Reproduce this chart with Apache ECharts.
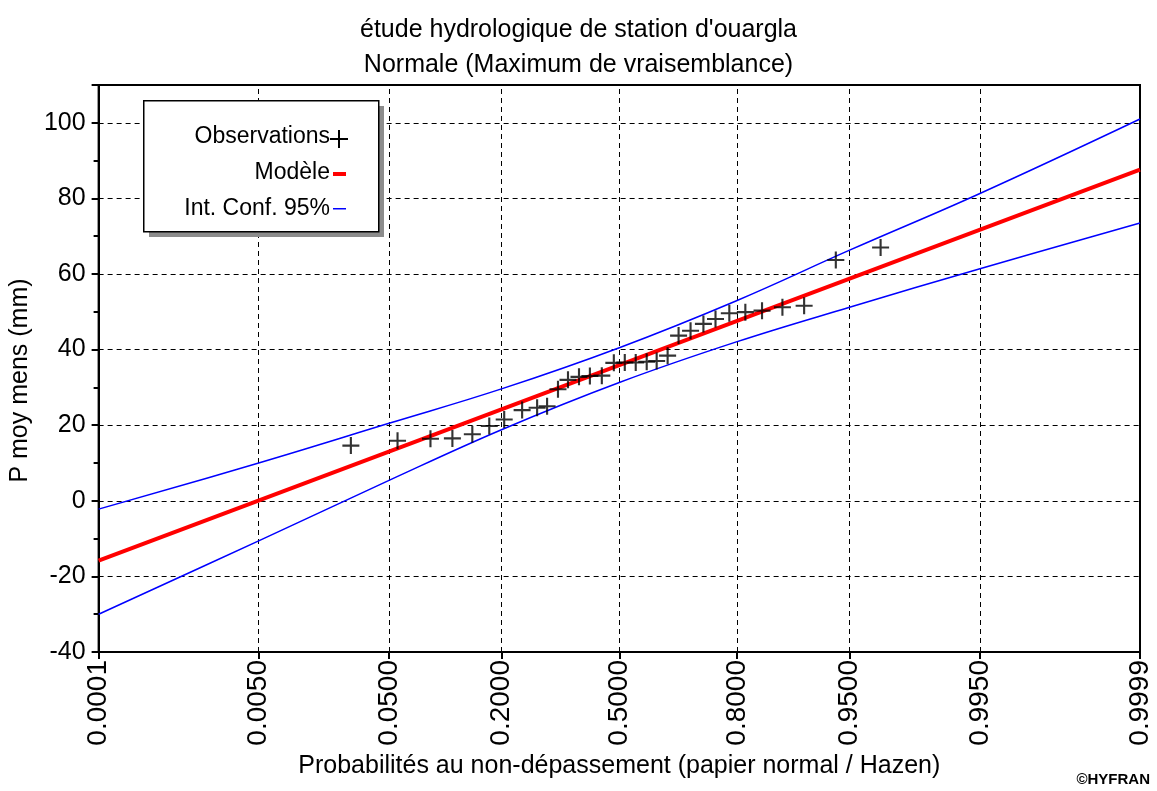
<!DOCTYPE html>
<html>
<head>
<meta charset="utf-8">
<script src="https://cdn.jsdelivr.net/npm/echarts@6/dist/echarts.min.js"></script>
<style>
html,body{margin:0;padding:0;background:#fff;}
#chart{width:1157px;height:791px;}
</style>
</head>
<body>
<div id="chart"></div>
<script>
// ---- data ----
const titleLines = ["étude hydrologique de station d'ouargla", "Normale (Maximum de vraisemblance)"];
const xAxisName = "Probabilités au non-dépassement (papier normal / Hazen)";
const yAxisName = "P moy mens (mm)";

// probability ticks (non-exceedance) and their labels
const tickProbs  = [0.0001, 0.005, 0.05, 0.2, 0.5, 0.8, 0.95, 0.995, 0.9999];
const tickLabels = ["0.0001","0.0050","0.0500","0.2000","0.5000","0.8000","0.9500","0.9950","0.9999"];

// observations: plotting probability and value (mm)
const obsProb  = [0.0276,0.0566,0.0887,0.1166,0.1469,0.1765,0.2055,0.2438,0.2786,0.3030,0.3307,0.3570,0.3867,0.4168,0.4503,0.4844,
                  0.5156,0.5467,0.5776,0.6052,0.6350,0.6640,0.6946,0.7260,0.7540,0.7840,0.8160,0.8460,0.8780,0.9066,0.9390,0.9690];
const obsValue = [14.6,15.9,16.4,16.5,17.6,19.8,21.5,24.0,24.6,25.0,29.5,32.0,32.8,33.0,33.1,36.5,
                  36.6,36.6,36.8,37.0,38.4,43.7,45.0,46.8,48.1,49.6,49.9,50.3,51.2,51.6,63.7,67.0];

// fitted normal model (straight line on normal paper)
const modelProb  = [0.0001, 0.5, 0.9999];
const modelValue = [-15.8, 35.9, 87.6];

// 95% confidence interval, read at the tick probabilities
const ciProb  = [0.0001, 0.005, 0.05, 0.2, 0.5, 0.8, 0.95, 0.995, 0.9999];
const ciUpper = [-2.2, 10.0, 20.5, 29.6, 40.5, 53.0, 66.3, 81.3, 101.0];
const ciLower = [-30.0, -10.6, 5.4, 18.8, 31.3, 42.1, 51.2, 61.4, 73.5];

const yMin = -40, yMax = 110, yInterval = 20;

// ---- normal probability scale (probit transform) ----
function probit(p){
  const a=[-3.969683028665376e+01,2.209460984245205e+02,-2.759285104469687e+02,1.383577518672690e+02,-3.066479806614716e+01,2.506628277459239e+00];
  const b=[-5.447609879822406e+01,1.615858368580409e+02,-1.556989798598866e+02,6.680131188771972e+01,-1.328068155288572e+01];
  const c=[-7.784894002430293e-03,-3.223964580411365e-01,-2.400758277161838e+00,-2.549732539343734e+00,4.374664141464968e+00,2.938163982698783e+00];
  const d=[7.784695709041462e-03,3.224671290700398e-01,2.445134137142996e+00,3.754408661907416e+00];
  const plow=0.02425, phigh=1-plow;
  let q,r;
  if(p<plow){q=Math.sqrt(-2*Math.log(p));return (((((c[0]*q+c[1])*q+c[2])*q+c[3])*q+c[4])*q+c[5])/((((d[0]*q+d[1])*q+d[2])*q+d[3])*q+1);}
  if(p<=phigh){q=p-0.5;r=q*q;return (((((a[0]*r+a[1])*r+a[2])*r+a[3])*r+a[4])*r+a[5])*q/(((((b[0]*r+b[1])*r+b[2])*r+b[3])*r+b[4])*r+1);}
  q=Math.sqrt(-2*Math.log(1-p));return -(((((c[0]*q+c[1])*q+c[2])*q+c[3])*q+c[4])*q+c[5])/((((d[0]*q+d[1])*q+d[2])*q+d[3])*q+1);
}
const tickZ = tickProbs.map(probit);
const xMin = tickZ[0], xMax = tickZ[tickZ.length-1];
const pairs = (ps, vs) => ps.map((p,i)=>[probit(p), vs[i]]);

const FONT = "'Liberation Sans', Arial, sans-serif";
const crossPath = 'path://M-1.25,-10 h2.5 v20 h-2.5 z M-10,-1.25 h20 v2.5 h-20 z';
const gridDash = [5,4];

const chart = echarts.init(document.getElementById('chart'), null, {renderer:'canvas'});
chart.setOption({
  animation:false,
  backgroundColor:'#fff',
  title:{
    text: titleLines.join('\n'),
    left:'center', top:8,
    textStyle:{fontFamily:FONT,fontSize:25,fontWeight:'normal',color:'#000',lineHeight:35}
  },
  grid:{left:95,right:17,top:85,bottom:139,show:true,borderColor:'#000',borderWidth:2,backgroundColor:'transparent'},
  xAxis:{
    type:'value', min:xMin, max:xMax,
    name:xAxisName, nameLocation:'middle', nameGap:100,
    nameTextStyle:{fontFamily:FONT,fontSize:25,color:'#000'},
    axisLine:{show:true,onZero:false,lineStyle:{color:'#000',width:2}},
    axisTick:{show:true,customValues:tickZ,length:7,lineStyle:{color:'#000',width:2}},
    axisLabel:{show:true,customValues:tickZ,rotate:90,margin:8,fontFamily:FONT,fontSize:28,color:'#000',
      formatter:(v)=>{let best=0;for(let i=1;i<tickZ.length;i++){if(Math.abs(tickZ[i]-v)<Math.abs(tickZ[best]-v))best=i;}return tickLabels[best];}},
    splitLine:{show:false}
  },
  yAxis:{
    type:'value', min:yMin, max:yMax, interval:yInterval,
    name:yAxisName, nameLocation:'middle', nameGap:58,
    nameTextStyle:{fontFamily:FONT,fontSize:25,color:'#000',padding:[0,24,0,0]},
    axisLine:{show:true,onZero:false,lineStyle:{color:'#000',width:2}},
    axisTick:{show:true,length:7,lineStyle:{color:'#000',width:2}},
    minorTick:{show:true,splitNumber:2,length:5,lineStyle:{color:'#000',width:2}},
    axisLabel:{margin:13,fontFamily:FONT,fontSize:25,color:'#000',showMaxLabel:false},
    splitLine:{show:true,lineStyle:{color:'#000',width:1,type:gridDash}}
  },
  series:[
    {
      name:'grid', type:'line', data:[], silent:true, z:1,
      markLine:{silent:true, z:1, symbol:'none', label:{show:false},
        lineStyle:{color:'#000',width:1,type:gridDash},
        data: tickZ.slice(1,-1).map(z=>({xAxis:z}))}
    },
    {name:'Int. Conf. 95%', type:'line', data:pairs(ciProb,ciUpper), symbol:'none', z:3, smooth:0.4,
      lineStyle:{color:'#0000ff',width:1.5}},
    {name:'Int. Conf. 95% inf', type:'line', data:pairs(ciProb,ciLower), symbol:'none', z:3, smooth:0.4,
      lineStyle:{color:'#0000ff',width:1.5}},
    {name:'Modèle', type:'line', data:pairs(modelProb,modelValue), symbol:'none', z:4,
      lineStyle:{color:'#ff0000',width:4}},
    {name:'Observations', type:'scatter', data:pairs(obsProb,obsValue), symbol:crossPath, symbolSize:17, z:5,
      itemStyle:{color:'#000'}}
  ],
  graphic:[
    // legend box with shadow
    {type:'rect', left:149, top:106, z:10, shape:{width:235,height:131}, style:{fill:'#8c8c8c'}},
    {type:'rect', left:143, top:100, z:11, shape:{width:235,height:131}, style:{fill:'#fff',stroke:'#000',lineWidth:1.5}},
    {type:'text', z:12, x:330, y:137, style:{text:'Observations',fontFamily:FONT,fontSize:23,fill:'#000',align:'right',verticalAlign:'middle'}},
    {type:'text', z:12, x:330, y:173, style:{text:'Modèle',fontFamily:FONT,fontSize:23,fill:'#000',align:'right',verticalAlign:'middle'}},
    {type:'text', z:12, x:330, y:209, style:{text:'Int. Conf. 95%',fontFamily:FONT,fontSize:23,fill:'#000',align:'right',verticalAlign:'middle'}},
    {type:'rect', z:12, shape:{x:330,y:138,width:18,height:2}, style:{fill:'#000'}},
    {type:'rect', z:12, shape:{x:338,y:130,width:2,height:18}, style:{fill:'#000'}},
    {type:'rect', z:12, shape:{x:333,y:172,width:13,height:4}, style:{fill:'#ff0000'}},
    {type:'rect', z:12, shape:{x:333,y:208,width:13,height:1.5}, style:{fill:'#0000ff'}},
    // copyright
    {type:'text', z:12, x:1150, y:780, style:{text:'©HYFRAN',fontFamily:FONT,fontSize:15,fontWeight:'bold',fill:'#000',align:'right',verticalAlign:'middle'}}
  ]
});
</script>
</body>
</html>
